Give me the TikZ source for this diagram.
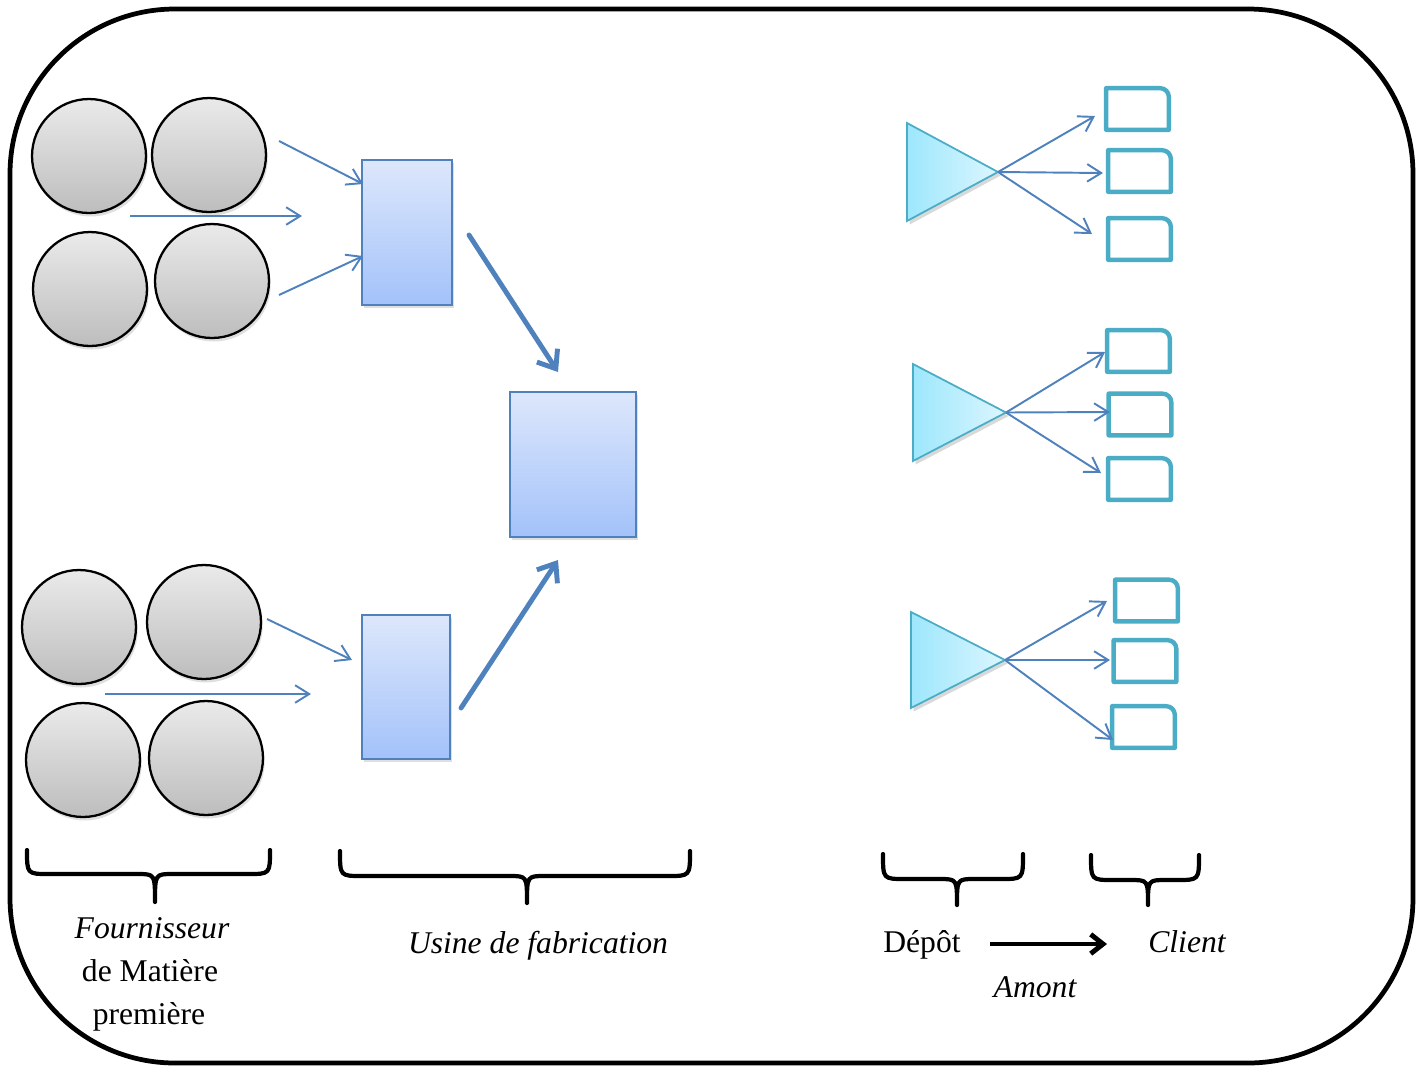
\documentclass[tikz,border=0pt]{standalone}
\usepackage{fontspec}
\setmainfont{Liberation Serif}
\usetikzlibrary{arrows.meta,shadows}
\definecolor{bline}{HTML}{4F81BD}
\definecolor{utop}{HTML}{DDE7FB}
\definecolor{ubot}{HTML}{A3C2FA}
\definecolor{ctop}{HTML}{EAEAEA}
\definecolor{cbot}{HTML}{BDBDBD}
\definecolor{tleft}{HTML}{9DE7FD}
\definecolor{tright}{HTML}{DCF6FE}
\definecolor{teal}{HTML}{4BACC6}
\newcommand\mybrace[6]{%
  \draw[bracestyle] (#1,#4) .. controls (#1,#5) and (#1,#5) .. ({#1+22},#5) -- ({#3-18},#5)
    .. controls (#3,#5) and (#3,#5) .. (#3,#6)
    .. controls (#3,#5) and (#3,#5) .. ({#3+18},#5) -- ({#2-22},#5)
    .. controls (#2,#5) and (#2,#5) .. (#2,#4);}
\newcommand\clientbox[3]{%
  \node[cboxn] (#1) at (#2,#3) {};
  \draw[cboxd] (#1.south west) -- (#1.north west) [rounded corners=5pt] -- (#1.north east) [sharp corners] -- (#1.south east) -- cycle;}
\newcommand\depot[5]{%
  \path[depotstyle] (#2,#3) -- (#5,{(#3+#4)/2}) -- (#2,#4) -- cycle;
  \coordinate (#1) at (#5,{(#3+#4)/2});}
\begin{document}
\begin{tikzpicture}[x=0.02cm,y=-0.02cm,
  frame/.style={draw=black, line width=2.7pt, rounded corners=3.3cm},
  circ/.style={circle, draw=black, line width=1.3pt, top color=ctop, bottom color=cbot,
    minimum size=2.28cm, inner sep=0pt,
    drop shadow={opacity=0.25, shadow xshift=1pt, shadow yshift=-2pt}},
  usine/.style={rectangle, draw=bline, line width=1.1pt, top color=utop, bottom color=ubot,
    inner sep=0pt, drop shadow={opacity=0.25, shadow xshift=1pt, shadow yshift=-1.5pt}},
  depotstyle/.style={draw=teal, line width=1pt, left color=tleft, right color=tright,
    line join=miter, drop shadow={opacity=0.3, shadow xshift=1.5pt, shadow yshift=-2pt}},
  cboxn/.style={rectangle, inner sep=0pt, minimum width=1.24cm, minimum height=0.82cm},
  cboxd/.style={draw=teal, line width=2.5pt, line join=round},
  thinarrow/.style={draw=bline, line width=1.1pt, -{Straight Barb[length=8pt,width=10pt]}},
  thickarrow/.style={draw=bline, line width=2.8pt, line cap=round, -{Straight Barb[length=9pt,width=14pt]}},
  blackarrow/.style={draw=black, line width=2.8pt, -{Straight Barb[length=7pt,width=11pt]}},
  bracestyle/.style={draw=black, line width=2.4pt, line join=round, line cap=round},
  lbl/.style={anchor=base, inner sep=0pt, font=\fontsize{18}{22}\selectfont},
  ilbl/.style={anchor=base, inner sep=0pt, font=\fontsize{18}{22}\selectfont\itshape}]
\useasboundingbox (0,0) rectangle (1421,1066);
\draw[frame] (10,9) rectangle (1413,1063);

% suppliers
\node[circ] (a1) at (89,156) {};
\node[circ] (a2) at (209,155) {};
\node[circ] (a3) at (90,289) {};
\node[circ] (a4) at (212,281) {};
\node[circ] (b1) at (79,627) {};
\node[circ] (b2) at (204,622) {};
\node[circ] (b3) at (83,760) {};
\node[circ] (b4) at (206,758) {};

% factories
\node[usine, minimum width=1.8cm, minimum height=2.9cm] (u1) at (407,232.5) {};
\node[usine, minimum width=1.76cm, minimum height=2.88cm] (u2) at (406,687) {};
\node[usine, minimum width=2.52cm, minimum height=2.9cm] (u3) at (573,464.5) {};

% supplier arrows
\coordinate (s1) at (279,141); \coordinate (e1) at (363,184);
\coordinate (s2) at (130,216); \coordinate (e2) at (302,216);
\coordinate (s3) at (279,295); \coordinate (e3) at (363,256);
\coordinate (s4) at (267,619); \coordinate (e4) at (352,660);
\coordinate (s5) at (105,694); \coordinate (e5) at (311,694);
\draw[thinarrow] (s1) -- (e1);
\draw[thinarrow] (s2) -- (e2);
\draw[thinarrow] (s3) -- (e3);
\draw[thinarrow] (s4) -- (e4);
\draw[thinarrow] (s5) -- (e5);

% factory arrows
\coordinate (f1s) at (469,235); \coordinate (f1e) at (558,372);
\coordinate (f2s) at (461,708); \coordinate (f2e) at (558,560);
\draw[thickarrow] (f1s) -- (f1e);
\draw[thickarrow] (f2s) -- (f2e);

% depots
\depot{t1}{907}{123}{221}{998}
\depot{t2}{913}{364}{461}{1006}
\depot{t3}{911}{612}{708}{1005}

% clients
\clientbox{k11}{1137.5}{109}
\clientbox{k12}{1139.5}{171}
\clientbox{k13}{1139.5}{239}
\clientbox{k21}{1138.5}{351}
\clientbox{k22}{1140}{414.5}
\clientbox{k23}{1139.5}{479}
\clientbox{k31}{1146.5}{600.5}
\clientbox{k32}{1145}{661}
\clientbox{k33}{1143.5}{727}

\coordinate (d11) at (1095,116); \coordinate (d12) at (1103,173); \coordinate (d13) at (1092,234);
\coordinate (d21) at (1105,352); \coordinate (d22) at (1110,412); \coordinate (d23) at (1101,473);
\coordinate (d31) at (1107,601); \coordinate (d32) at (1110,660); \coordinate (d33) at (1113,740);
\foreach \t/\a/\b/\c in {t1/d11/d12/d13, t2/d21/d22/d23, t3/d31/d32/d33}{
  \draw[thinarrow] (\t) -- (\a);
  \draw[thinarrow] (\t) -- (\b);
  \draw[thinarrow] (\t) -- (\c);
}

% braces
\mybrace{27}{270}{155}{850}{874}{902}
\mybrace{340}{690}{527}{851}{876}{903}
\mybrace{883}{1023}{957}{854}{879}{905}
\mybrace{1091}{1199}{1148}{855}{880}{905}

% labels
\node[ilbl] (tF) at (152,938) {Fournisseur};
\node[lbl] (tM) at (150,981) {de Matière};
\node[lbl] (tP) at (149,1024) {première};
\node[ilbl] (tU) at (538,953) {Usine de fabrication};
\node[lbl] (tD) at (922,952) {Dépôt};
\node[ilbl] (tC) at (1187,952) {Client};
\node[ilbl] (tA) at (1035,997) {Amont};
\coordinate (k1) at (990,944); \coordinate (k2) at (1107,944);
\draw[blackarrow] (k1) -- (k2);
\end{tikzpicture}
\end{document}
